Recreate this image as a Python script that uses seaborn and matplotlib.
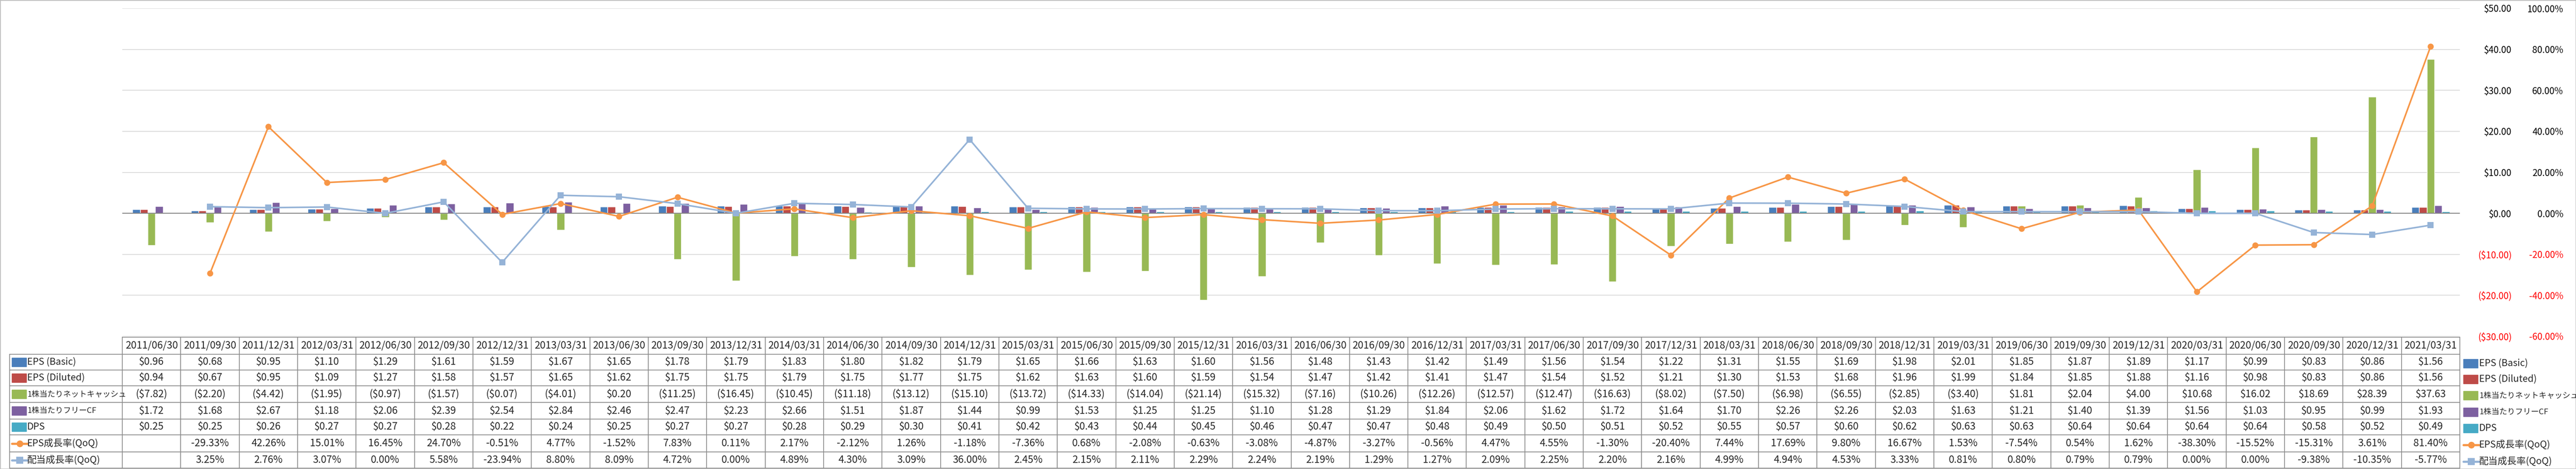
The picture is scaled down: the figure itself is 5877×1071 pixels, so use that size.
import numpy as np
import pandas as pd
import matplotlib
matplotlib.use("Agg")
import matplotlib.pyplot as plt
import matplotlib.transforms as mtransforms
from matplotlib.patches import Rectangle
from matplotlib.lines import Line2D
import seaborn as sns

dates = ["2011/06/30", "2011/09/30", "2011/12/31", "2012/03/31", "2012/06/30", "2012/09/30",
         "2012/12/31", "2013/03/31", "2013/06/30", "2013/09/30", "2013/12/31", "2014/03/31",
         "2014/06/30", "2014/09/30", "2014/12/31", "2015/03/31", "2015/06/30", "2015/09/30",
         "2015/12/31", "2016/03/31", "2016/06/30", "2016/09/30", "2016/12/31", "2017/03/31",
         "2017/06/30", "2017/09/30", "2017/12/31", "2018/03/31", "2018/06/30", "2018/09/30",
         "2018/12/31", "2019/03/31", "2019/06/30", "2019/09/30", "2019/12/31", "2020/03/31",
         "2020/06/30", "2020/09/30", "2020/12/31", "2021/03/31"]

eps_basic = [0.96, 0.68, 0.95, 1.10, 1.29, 1.61, 1.59, 1.67, 1.65, 1.78, 1.79, 1.83, 1.80, 1.82,
             1.79, 1.65, 1.66, 1.63, 1.60, 1.56, 1.48, 1.43, 1.42, 1.49, 1.56, 1.54, 1.22, 1.31,
             1.55, 1.69, 1.98, 2.01, 1.85, 1.87, 1.89, 1.17, 0.99, 0.83, 0.86, 1.56]
eps_diluted = [0.94, 0.67, 0.95, 1.09, 1.27, 1.58, 1.57, 1.65, 1.62, 1.75, 1.75, 1.79, 1.75, 1.77,
               1.75, 1.62, 1.63, 1.60, 1.59, 1.54, 1.47, 1.42, 1.41, 1.47, 1.54, 1.52, 1.21, 1.30,
               1.53, 1.68, 1.96, 1.99, 1.84, 1.85, 1.88, 1.16, 0.98, 0.83, 0.86, 1.56]
net_cash = [-7.82, -2.20, -4.42, -1.95, -0.97, -1.57, -0.07, -4.01, 0.20, -11.25, -16.45, -10.45,
            -11.18, -13.12, -15.10, -13.72, -14.33, -14.04, -21.14, -15.32, -7.16, -10.26, -12.26,
            -12.57, -12.47, -16.63, -8.02, -7.50, -6.98, -6.55, -2.85, -3.40, 1.81, 2.04, 4.00,
            10.68, 16.02, 18.69, 28.39, 37.63]
free_cf = [1.72, 1.68, 2.67, 1.18, 2.06, 2.39, 2.54, 2.84, 2.46, 2.47, 2.23, 2.66, 1.51, 1.87,
           1.44, 0.99, 1.53, 1.25, 1.25, 1.10, 1.28, 1.29, 1.84, 2.06, 1.62, 1.72, 1.64, 1.70,
           2.26, 2.26, 2.03, 1.63, 1.21, 1.40, 1.39, 1.56, 1.03, 0.95, 0.99, 1.93]
dps = [0.25, 0.25, 0.26, 0.27, 0.27, 0.28, 0.22, 0.24, 0.25, 0.27, 0.27, 0.28, 0.29, 0.30,
       0.41, 0.42, 0.43, 0.44, 0.45, 0.46, 0.47, 0.47, 0.48, 0.49, 0.50, 0.51, 0.52, 0.55,
       0.57, 0.60, 0.62, 0.63, 0.63, 0.64, 0.64, 0.64, 0.64, 0.58, 0.52, 0.49]
eps_growth = [np.nan, -29.33, 42.26, 15.01, 16.45, 24.70, -0.51, 4.77, -1.52, 7.83, 0.11, 2.17,
              -2.12, 1.26, -1.18, -7.36, 0.68, -2.08, -0.63, -3.08, -4.87, -3.27, -0.56, 4.47,
              4.55, -1.30, -20.40, 7.44, 17.69, 9.80, 16.67, 1.53, -7.54, 0.54, 1.62, -38.30,
              -15.52, -15.31, 3.61, 81.40]
dps_growth = [np.nan, 3.25, 2.76, 3.07, 0.00, 5.58, -23.94, 8.80, 8.09, 4.72, 0.00, 4.89, 4.30,
              3.09, 36.00, 2.45, 2.15, 2.11, 2.29, 2.24, 2.19, 1.29, 1.27, 2.09, 2.25, 2.20, 2.16,
              4.99, 4.94, 4.53, 3.33, 0.81, 0.80, 0.79, 0.79, 0.00, 0.00, -9.38, -10.35, -5.77]

bar_names = ["EPS (Basic)", "EPS (Diluted)", "1株当たりネットキャッシュ", "1株当たりフリーCF", "DPS"]
line_names = ["EPS成長率(QoQ)", "配当成長率(QoQ)"]
bar_colors = ["#4a7ebb", "#be4b48", "#98b954", "#7d60a0", "#46aac5"]
line_colors = ["#f79646", "#95b3d7"]
line_markers = ["o", "s"]

bars = pd.DataFrame({"date": dates, bar_names[0]: eps_basic, bar_names[1]: eps_diluted,
                     bar_names[2]: net_cash, bar_names[3]: free_cf, bar_names[4]: dps})
bars = bars.melt(id_vars="date", var_name="series", value_name="value")
lines = pd.DataFrame({"pos": np.arange(len(dates)), line_names[0]: eps_growth,
                      line_names[1]: dps_growth})
lines = lines.melt(id_vars="pos", var_name="series", value_name="rate")

sns.set_style("white")
plt.rcParams["font.family"] = ["Liberation Sans Narrow", "Noto Sans CJK JP", "DejaVu Sans"]

W, H = 5877, 1071
fig = plt.figure(figsize=(W / 100, H / 100), dpi=100)
ax = fig.add_axes([279 / W, 1 - 768 / H, (5612 - 279) / W, (768 - 19) / H])

sns.barplot(data=bars, x="date", y="value", hue="series", hue_order=bar_names,
            palette=bar_colors, width=0.65, saturation=1, errorbar=None, legend=False, ax=ax)
ax.set_xlim(-0.5, len(dates) - 0.5)
ax.set_ylim(-30, 50)
yt = list(range(-30, 51, 10))
ax.set_yticks(yt)
ax.yaxis.grid(True, color="#d9d9d9", lw=1.3)
ax.set_axisbelow(True)
ax.axhline(0, color="#868686", lw=1.5, zorder=1)
ax.set_xlabel("")
ax.set_ylabel("")
ax.tick_params(axis="x", bottom=False, labelbottom=False)
for s in ax.spines.values():
    s.set_visible(False)

ax2 = ax.twinx()
sns.lineplot(data=lines, x="pos", y="rate", hue="series", style="series",
             hue_order=line_names, palette=line_colors, markers=line_markers, dashes=False,
             lw=2.6, markersize=10, markeredgewidth=0, legend=False, ax=ax2)
ax2.set_ylim(-60, 100)
ax2.set_xlim(-0.5, len(dates) - 0.5)
pt = list(range(-60, 101, 20))
ax2.set_yticks(pt)
ax2.set_ylabel("")
for s in ax2.spines.values():
    s.set_visible(False)

# both value axes sit on the right, like the original
ax.yaxis.tick_right()
ax.set_yticklabels([f"${v:.2f}" if v >= 0 else f"(${-v:.2f})" for v in yt])
ax.tick_params(axis="y", length=0, pad=85, labelsize=15)
for lab, v in zip(ax.get_yticklabels(), yt):
    lab.set_ha("right")
    lab.set_color("red" if v < 0 else "black")
ax2.set_yticklabels([f"{v:.2f}%" for v in pt])
ax2.tick_params(axis="y", length=0, pad=170, labelsize=15)
for lab, v in zip(ax2.get_yticklabels(), pt):
    lab.set_ha("right")
    lab.set_color("red" if v < 0 else "black")

# ---- data table ----
trans = mtransforms.blended_transform_factory(ax.transData, fig.transFigure)
def yf(px):
    return 1 - px / H
def money(v):
    return f"${v:.2f}" if v >= 0 else f"(${-v:.2f})"

row_edges = [770, 809, 845, 881, 919, 957, 993, 1032, 1069]
row_mid = [(a + b) / 2 for a, b in zip(row_edges[:-1], row_edges[1:])]
x_left = ax.transData.inverted().transform((22, 0))[0]
n = len(dates)
grid_col = "#8c8c8c"

for e in np.arange(n + 1) - 0.5:
    fig.add_artist(Line2D([e, e], [yf(770), yf(1069)], transform=trans, color=grid_col, lw=1.3))
fig.add_artist(Line2D([x_left, x_left], [yf(809), yf(1069)], transform=trans, color=grid_col, lw=1.3))
fig.add_artist(Line2D([-0.5, n - 0.5], [yf(770), yf(770)], transform=trans, color=grid_col, lw=1.3))
for r in row_edges[1:]:
    fig.add_artist(Line2D([x_left, n - 0.5], [yf(r), yf(r)], transform=trans, color=grid_col, lw=1.3))

rows = [[money(v) for v in col] for col in (eps_basic, eps_diluted, net_cash, free_cf, dps)]
rows += [["" if np.isnan(v) else f"{v:.2f}%" for v in col] for col in (eps_growth, dps_growth)]

for i, d in enumerate(dates):
    fig.text(i, yf(row_mid[0]), d, transform=trans, ha="center", va="center", fontsize=16.5)
    for r, vals in enumerate(rows):
        fig.text(i, yf(row_mid[r + 1]), vals[i], transform=trans, ha="center", va="center",
                 fontsize=16.5)

# row keys on the left and the legend on the right
def draw_key(x0, yc, kind, color, marker=None):
    if kind == "bar":
        fig.add_artist(Rectangle((x0 / W, yf(yc + 10)), 33 / W, 20 / H, transform=fig.transFigure,
                                 color=color))
    else:
        fig.add_artist(Line2D([x0 / W, (x0 + 36) / W], [yf(yc), yf(yc)], transform=fig.transFigure,
                              color=color, lw=3.5))
        fig.add_artist(Line2D([(x0 + 18) / W], [yf(yc)], transform=fig.transFigure, color=color,
                              marker=marker, ms=11, mew=0))

labels = bar_names + line_names
for k, name in enumerate(labels):
    fs = 13 if "株" in name else 15.5
    if k < 5:
        kind, col, mk = "bar", bar_colors[k], None
    else:
        kind, col, mk = "line", line_colors[k - 5], line_markers[k - 5]
    yc = row_mid[k + 1]
    draw_key(27, yc, kind, col, mk)
    fig.text(62 / W, yf(yc), name, ha="left", va="center", fontsize=fs)
    draw_key(5620, yc + 3, kind, col, mk)
    fig.text(5656 / W, yf(yc + 3), name, ha="left", va="center", fontsize=fs)

fig.add_artist(Rectangle((0, 0), 1, 1, transform=fig.transFigure, fill=False, ec="#bfbfbf", lw=2))

fig.savefig("out.png", dpi=100)
